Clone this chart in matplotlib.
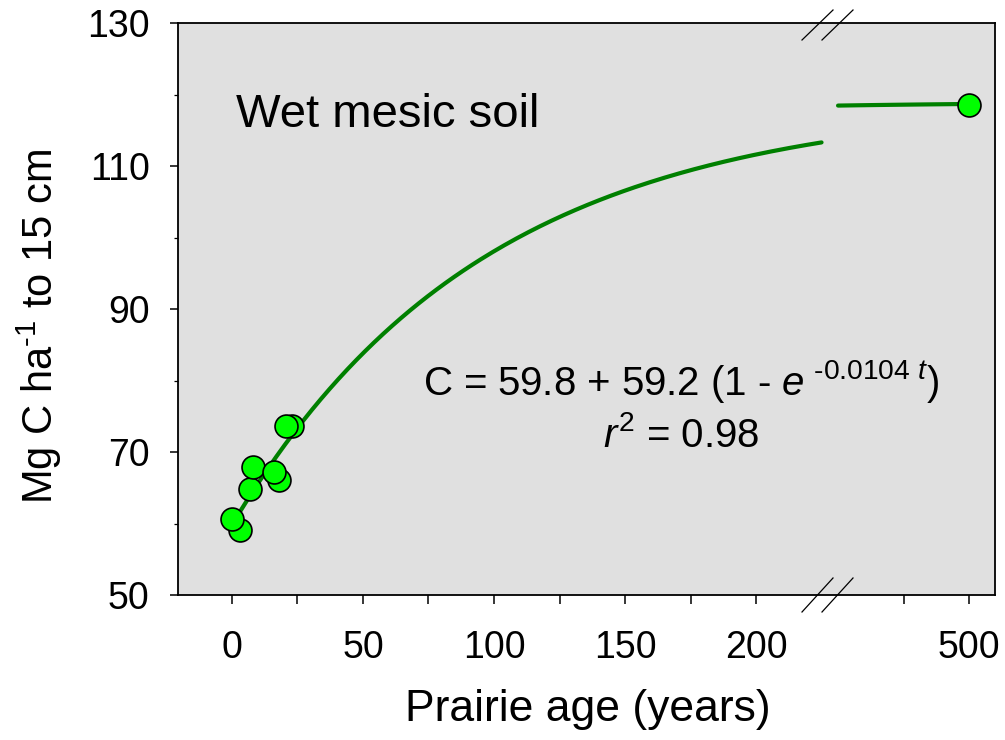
import numpy as np
import matplotlib
matplotlib.use("Agg")
import matplotlib.pyplot as plt
from matplotlib.ticker import FixedLocator, NullFormatter

plt.rcParams['font.family'] = ['Liberation Sans', 'DejaVu Sans']
plt.rcParams['mathtext.fontset'] = 'custom'
plt.rcParams['mathtext.rm'] = 'Liberation Sans'
plt.rcParams['mathtext.it'] = 'Liberation Sans:italic'

# measured soil carbon (drawn in this order so overlaps match)
age = [2.9, 0.0, 6.9, 8.0, 17.8, 15.9, 23.0, 20.7, 500]
carbon = [59.1, 60.6, 64.8, 67.9, 66.1, 67.2, 73.7, 73.7, 118.6]

# fitted model C = a + b(1 - exp(-k t)), from the equation on the chart
a, b, k = 59.8, 59.2, 0.0104
left_end, right_start, right_end = 225, 450, 500

x_major = [0, 50, 100, 150, 200, 500]
x_minor = [25, 75, 125, 175, 475]
y_major = [50, 70, 90, 110, 130]
y_minor = [60, 80, 100, 120]

# broken axis: squeeze 225..450 into a small gap
src = [-1000, 225, 450, 2000]
dst = [-1000, 225, 231.3, 1781.3]


def fwd(x):
    return np.interp(x, src, dst)


def inv(u):
    return np.interp(u, dst, src)


fig = plt.figure(figsize=(10.05, 7.4), dpi=100)
ax = fig.add_axes([178 / 1005, 145 / 740, 817 / 1005, 572 / 740])
ax.set_facecolor('#e0e0e0')
ax.set_xscale('function', functions=(fwd, inv))
ax.set_xlim(-20.6, 509.9)
ax.set_ylim(50, 130)

green = '#008000'
t1 = np.linspace(0, left_end, 200)
t2 = np.linspace(right_start, right_end, 50)
ax.plot(t1, a + b * (1 - np.exp(-k * t1)), color=green, lw=3.0, solid_capstyle='round', zorder=2)
ax.plot(t2, a + b * (1 - np.exp(-k * t2)), color=green, lw=3.0, solid_capstyle='round', zorder=2)
ax.plot(age, carbon, 'o', ms=16.5, mfc='#00ff00', mec='black', mew=1.2, ls='none', zorder=3)

ax.xaxis.set_major_locator(FixedLocator(x_major))
ax.xaxis.set_minor_locator(FixedLocator(x_minor))
ax.xaxis.set_minor_formatter(NullFormatter())
ax.set_xticklabels([str(v) for v in x_major])
ax.yaxis.set_major_locator(FixedLocator(y_major))
ax.yaxis.set_minor_locator(FixedLocator(y_minor))
ax.set_yticklabels([str(v) for v in y_major])

ax.tick_params(axis='x', which='both', direction='out', length=6.5, width=1.1, labelsize=27, pad=19)
ax.tick_params(axis='y', which='major', direction='out', length=5.5, width=1.1, labelsize=27, pad=15)
ax.tick_params(axis='y', which='minor', direction='out', length=3, width=0.9)
for s in ax.spines.values():
    s.set_linewidth(1.3)

ax.set_xlabel('Prairie age (years)', fontsize=32)
ax.xaxis.set_label_coords(0.501, -0.165)
ax.set_ylabel('Mg C ha$^{\\text{-1}}$ to 15 cm', fontsize=30)
ax.yaxis.set_label_coords(-0.139, 0.47)

ax.text(1.5, 115.5, 'Wet mesic soil', fontsize=34, ha='left', va='baseline')
ax.text(171.4, 78.0, 'C = 59.8 + 59.2 (1 - $e^{\\ \\text{-0.0104}\\ t}$)', fontsize=29,
        ha='center', va='baseline')
ax.text(171.4, 70.7, '$r^2$ = 0.98', fontsize=29, ha='center', va='baseline')

# break marks on top and bottom spines
for x0 in (802, 822):
    for y0, y1 in ((40, 10), (612, 578)):
        ax.plot([(x0 - 178) / 817, (x0 + 31 - 178) / 817],
                [(595 - y0) / 572, (595 - y1) / 572],
                transform=ax.transAxes, color='black', lw=0.9, clip_on=False, zorder=5)

fig.savefig('out.png', dpi=100)
